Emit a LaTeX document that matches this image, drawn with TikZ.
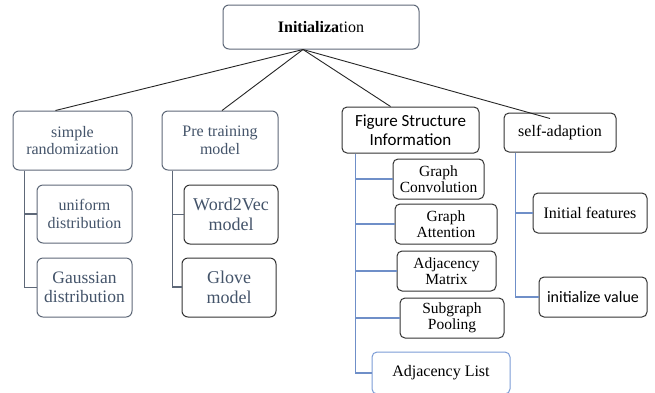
\documentclass[tikz,border=0pt]{standalone}
\usepackage{fontspec}
\setmainfont{Liberation Serif}
\newfontfamily\calibri{Carlito}
\definecolor{slate}{HTML}{44546A}
\definecolor{slateline}{HTML}{5E6878}
\definecolor{darkb}{HTML}{333333}
\definecolor{blueline}{HTML}{6F8FC8}
\definecolor{bluebox}{HTML}{7C9CD6}
\begin{document}
\begin{tikzpicture}[x=1pt,y=-1pt,
  every node/.style={font=\fontsize{16}{17.5}\selectfont, align=center, inner sep=0pt},
  gbox/.style={draw=slateline, line width=1pt, rounded corners=6pt, text=slate},
  kbox/.style={draw=darkb, line width=1pt, rounded corners=5pt, text=black},
  gline/.style={draw=slateline, line width=1.2pt},
  bline/.style={draw=blueline, line width=1.2pt},
  hub/.style={draw=black!85, line width=0.9pt}]
\clip (0,0) rectangle (655,392);
\useasboundingbox (0,0) rectangle (655,392);
\fill[white] (0,0) rectangle (655,392);
% top
\node[gbox, text=black, minimum width=196pt, minimum height=44pt] (init) at (321,27) {\textbf{Initializa}tion};
% column 1
\node[gbox, minimum width=119pt, minimum height=59pt] (simple) at (72.5,140.5) {simple\\randomization};
\node[gbox, minimum width=95pt, minimum height=58pt] (uniform) at (84.5,214) {uniform\\distribution};
\node[gbox, minimum width=95pt, minimum height=59pt, font=\fontsize{17.5}{19}\selectfont] (gauss) at (84.5,287.5) {Gaussian\\distribution};
% column 2
\node[gbox, minimum width=116pt, minimum height=59pt] (pre) at (220,140.5) {Pre training\\model};
\node[gbox, draw=darkb, minimum width=94pt, minimum height=59pt, font=\fontsize{18}{19.5}\selectfont] (w2v) at (231,214.5) {Word2Vec\\model};
\node[gbox, draw=darkb, minimum width=94pt, minimum height=59pt, font=\fontsize{18}{19.5}\selectfont] (glove) at (229,287.5) {Glove\\model};
% column 3
\node[kbox, minimum width=137pt, minimum height=46pt, font=\calibri\fontsize{17}{19}\selectfont] (fsi) at (410.5,130) {Figure Structure\\Information};
\node[kbox, minimum width=91pt, minimum height=40pt, font=\fontsize{15.5}{16.5}\selectfont] (gconv) at (438.5,179) {Graph\\Convolution};
\node[kbox, minimum width=102pt, minimum height=40pt, font=\fontsize{15.5}{16.5}\selectfont] (gatt) at (446,224) {Graph\\Attention};
\node[kbox, minimum width=99pt, minimum height=40pt, font=\fontsize{15.5}{16.5}\selectfont] (adjm) at (446.5,271) {Adjacency\\Matrix};
\node[kbox, minimum width=104pt, minimum height=40pt, font=\fontsize{15.5}{16.5}\selectfont] (subg) at (452,318) {Subgraph\\Pooling};
\node[kbox, draw=bluebox, minimum width=138pt, minimum height=42pt] (adjl) at (441,373) {Adjacency List};
% column 4
\node[kbox, minimum width=112pt, minimum height=39pt] (self) at (560,132.5) {self-adaption};
\node[kbox, minimum width=114pt, minimum height=40pt] (initf) at (590,213) {Initial features};
\node[kbox, minimum width=108pt, minimum height=40pt, font=\calibri\fontsize{16}{18}\selectfont] (initv) at (593,297) {initialize value};
% hub connectors
\coordinate (h) at ([xshift=-18pt]init.south);
\draw[hub] (h) -- ([xshift=-17pt]simple.north);
\draw[hub] (h) -- ([xshift=2pt]pre.north);
\draw[hub] (h) -- ([xshift=-20pt]fsi.north);
\draw[hub] (h) -- ([xshift=-10pt,yshift=-6pt]self.north);
% tree connectors
\draw[gline] ([xshift=12pt]simple.south west) |- (gauss.west);
\draw[gline] ([xshift=12pt]simple.south west) |- (uniform.west);
\draw[gline] ([xshift=11pt]pre.south west) |- ([yshift=0.5pt]glove.west);
\draw[gline] ([xshift=11pt]pre.south west) |- (w2v.west);
\draw[bline] ([xshift=14pt]fsi.south west) |- (adjl.west);
\draw[bline] ([xshift=14pt]fsi.south west) |- (gconv.west);
\draw[bline] ([xshift=14pt]fsi.south west) |- (gatt.west);
\draw[bline] ([xshift=14pt]fsi.south west) |- (adjm.west);
\draw[bline] ([xshift=14pt]fsi.south west) |- (subg.west);
\draw[bline] ([xshift=12pt]self.south west) |- (initv.west);
\draw[bline] ([xshift=12pt]self.south west) |- (initf.west);
\end{tikzpicture}
\end{document}
